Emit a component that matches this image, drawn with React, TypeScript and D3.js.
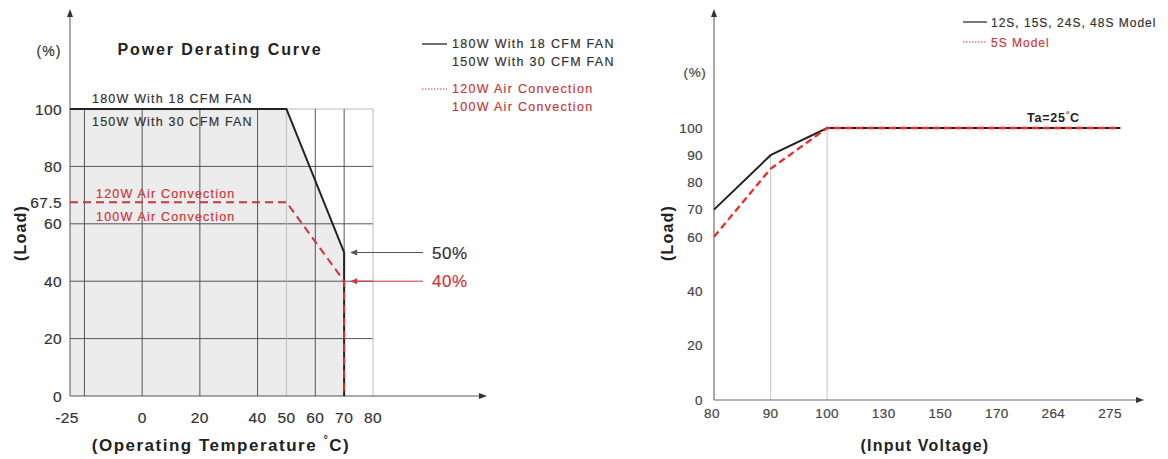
import React from "react";
import * as d3 from "d3";

// ---------- Left chart data: Power Derating Curve ----------
const tempTicks = [-25, 0, 20, 40, 50, 60, 70, 80];
const tempGrid = [-20, 0, 20, 40, 50, 60, 70, 80];
const loadTicksLeft = [0, 20, 40, 60, 67.5, 80, 100];
const loadGridLeft = [20, 40, 60, 80, 100];
const fanTemp = [-25, 50, 70, 70];
const fanLoad = [100, 100, 50, 0];
const convTemp = [-25, 50, 70, 70];
const convLoad = [67.5, 67.5, 40, 0];
const fanLabels = ["180W With 18 CFM FAN", "150W With 30 CFM FAN"];
const convLabels = ["120W Air Convection", "100W Air Convection"];
const markers = [
  { load: 50, label: "50%", kind: "fan" },
  { load: 40, label: "40%", kind: "conv" },
];

// ---------- Right chart data: Input voltage derating ----------
const voltTicks = [80, 90, 100, 130, 150, 170, 264, 275];
const voltGrid = [90, 100];
const loadTicksRight = [0, 20, 40, 60, 70, 80, 90, 100];
const stdVolt = [80, 90, 100, 277];
const stdLoad = [70, 90, 100, 100];
const s5Volt = [80, 90, 100, 277];
const s5Load = [60, 85, 100, 100];
const stdLegend = "12S, 15S, 24S, 48S Model";
const s5Legend = "5S Model";

const FONT = "'Liberation Sans', Arial, Helvetica, sans-serif";
const RED_L = "#c8383a";
const RED_R = "#ee2a24";
const TXT = "#333";
const THICK = 0.2;

export default function App() {
  // Left scales
  const xL = d3.scaleLinear().domain([-25, 80]).range([70, 373]);
  const yL = d3.scaleLinear().domain([0, 100]).range([396, 109]);
  const fanPts: [number, number][] = fanTemp.map((t, i) => [t, fanLoad[i]]);
  const convPts: [number, number][] = convTemp.map((t, i) => [t, convLoad[i]]);
  const lineL = d3
    .line<[number, number]>()
    .x((d) => xL(d[0]))
    .y((d) => yL(d[1]));
  const areaL = d3
    .area<[number, number]>()
    .x((d) => xL(d[0]))
    .y0(yL(0))
    .y1((d) => yL(d[1]));

  // Right scales: voltage -> tick index (piecewise) -> pixels
  const vIdx = d3.scaleLinear().domain(voltTicks).range(d3.range(voltTicks.length));
  const xIdx = d3.scaleLinear().domain([0, voltTicks.length - 1]).range([714, 1110]);
  const xR = (v: number) => xIdx(vIdx(v));
  const yR = d3.scaleLinear().domain([0, 100]).range([400, 128]);
  const stdPts: [number, number][] = stdVolt.map((v, i) => [v, stdLoad[i]]);
  const s5Pts: [number, number][] = s5Volt.map((v, i) => [v, s5Load[i]]);
  const lineR = d3
    .line<[number, number]>()
    .x((d) => xR(d[0]))
    .y((d) => yR(d[1]));
  const stdAt = d3.scaleLinear().domain(stdVolt).range(stdLoad);

  const gridDark = "#555";
  const gridLight = "#bbb";

  return (
    <svg
      width={1168}
      height={459}
      style={{ position: "absolute", left: 0, top: 0, background: "#fff" }}
      fontFamily={FONT}
    >
      <rect width={1168} height={459} fill="#fff" />
      {/* ================= LEFT CHART ================= */}
      <path d={areaL(fanPts) || ""} fill="#ececec" />
      {loadGridLeft.map((v) => (
        <line
          key={"hl" + v}
          x1={xL(-25)}
          x2={xL(80)}
          y1={yL(v)}
          y2={yL(v)}
          stroke={v === 100 ? gridLight : gridDark}
          strokeWidth={1}
        />
      ))}
      {tempGrid.map((t) => (
        <line
          key={"vl" + t}
          x1={xL(t)}
          x2={xL(t)}
          y1={yL(100)}
          y2={yL(0)}
          stroke={t === 50 || t === 80 ? gridLight : gridDark}
          strokeWidth={1}
        />
      ))}
      <line x1={xL(-25)} x2={xL(-25)} y1={yL(0)} y2={16} stroke="#555" strokeWidth={1} />
      <path d={`M${xL(-25)},9 L${xL(-25) - 3},17 L${xL(-25) + 3},17 Z`} fill="#333" />
      <line x1={xL(-25)} x2={480} y1={yL(0)} y2={yL(0)} stroke="#555" strokeWidth={1} />
      <path d={`M487,${yL(0)} L479,${yL(0) - 3} L479,${yL(0) + 3} Z`} fill="#333" />
      <path d={lineL(fanPts) || ""} fill="none" stroke="#222" strokeWidth={2} />
      <path
        d={lineL(convPts) || ""}
        fill="none"
        stroke={RED_L}
        strokeWidth={2}
        strokeDasharray="8,5"
      />
      <g stroke={TXT} strokeWidth={THICK}>
        {fanLabels.map((s, i) => (
          <text key={s} x={92} y={i === 0 ? 103 : 126} fontSize={12.5} letterSpacing={1.2} fill={TXT}>
            {s}
          </text>
        ))}
      </g>
      <g stroke={RED_L} strokeWidth={THICK}>
        {convLabels.map((s, i) => (
          <text key={s} x={96} y={i === 0 ? 198 : 221} fontSize={12.5} letterSpacing={1.2} fill={RED_L}>
            {s}
          </text>
        ))}
      </g>
      <g stroke={TXT} strokeWidth={THICK}>
        {loadTicksLeft.map((v) => (
          <text
            key={"yl" + v}
            x={62}
            y={yL(v)}
            dy="0.36em"
            textAnchor="end"
            fontSize={15.5}
            letterSpacing={0.4}
            fill={TXT}
          >
            {v}
          </text>
        ))}
        {tempTicks.map((t) => (
          <text
            key={"xl" + t}
            x={xL(t) - (t === -25 ? 3 : 0)}
            y={423}
            textAnchor="middle"
            fontSize={15.5}
            letterSpacing={0.4}
            fill={TXT}
          >
            {t}
          </text>
        ))}
        <text x={49} y={56} textAnchor="middle" fontSize={14} letterSpacing={1} fill={TXT}>
          (%)
        </text>
      </g>
      <text x={220} y={55} textAnchor="middle" fontSize={16} fontWeight="bold" letterSpacing={1.9} fill="#222">
        Power Derating Curve
      </text>
      <text
        transform="translate(26,233) rotate(-90)"
        textAnchor="middle"
        fontSize={16}
        fontWeight="bold"
        letterSpacing={1.2}
        fill="#222"
      >
        (Load)
      </text>
      <text x={221} y={451} textAnchor="middle" fontSize={17} fontWeight="bold" letterSpacing={1.5} fill="#222">
        (Operating Temperature{" "}
        <tspan fontSize={11} dy={-8}>
          °
        </tspan>
        <tspan dy={8}>C)</tspan>
      </text>
      {markers.map((m) => {
        const c = m.kind === "fan" ? "#555" : RED_L;
        const tc = m.kind === "fan" ? "#333" : RED_L;
        const yy = yL(m.load);
        const x0 = xL(70) + 6;
        return (
          <g key={m.label}>
            <line x1={x0 + 5} x2={423} y1={yy} y2={yy} stroke={c} strokeWidth={1} />
            <path d={`M${x0},${yy} L${x0 + 7},${yy - 3} L${x0 + 7},${yy + 3} Z`} fill={c} />
            <text
              x={432}
              y={yy}
              dy="0.36em"
              fontSize={17}
              letterSpacing={0.6}
              fill={tc}
              stroke={tc}
              strokeWidth={THICK}
            >
              {m.label}
            </text>
          </g>
        );
      })}
      <line x1={422} x2={447} y1={44} y2={44} stroke="#222" strokeWidth={1.3} />
      <g stroke={TXT} strokeWidth={THICK}>
        {fanLabels.map((s, i) => (
          <text key={"lg" + s} x={452} y={48 + i * 18} fontSize={12.5} letterSpacing={1.3} fill={TXT}>
            {s}
          </text>
        ))}
      </g>
      <line x1={422} x2={447} y1={89} y2={89} stroke={RED_L} strokeWidth={1} strokeDasharray="1.5,1.5" />
      <g stroke={RED_L} strokeWidth={THICK}>
        {convLabels.map((s, i) => (
          <text key={"lg" + s} x={452} y={93 + i * 18} fontSize={12.5} letterSpacing={1.3} fill={RED_L}>
            {s}
          </text>
        ))}
      </g>

      {/* ================= RIGHT CHART ================= */}
      {voltGrid.map((v) => (
        <line
          key={"vg" + v}
          x1={xR(v)}
          x2={xR(v)}
          y1={yR(stdAt(v))}
          y2={yR(0)}
          stroke="#ccc"
          strokeWidth={1.2}
        />
      ))}
      <line x1={xR(80)} x2={xR(80)} y1={yR(0)} y2={16} stroke="#555" strokeWidth={1} />
      <path d={`M${xR(80)},9 L${xR(80) - 3},17 L${xR(80) + 3},17 Z`} fill="#333" />
      <line x1={xR(80)} x2={1137} y1={yR(0)} y2={yR(0)} stroke="#666" strokeWidth={1} />
      <path d={`M1144,${yR(0)} L1136,${yR(0) - 3} L1136,${yR(0) + 3} Z`} fill="#333" />
      <path d={lineR(stdPts) || ""} fill="none" stroke="#222" strokeWidth={2} />
      <path
        d={lineR(s5Pts) || ""}
        fill="none"
        stroke={RED_R}
        strokeWidth={2.3}
        strokeDasharray="7,4"
      />
      <g stroke="#444" strokeWidth={THICK}>
        {loadTicksRight.map((v) => (
          <text
            key={"yr" + v}
            x={703}
            y={yR(v)}
            dy="0.36em"
            textAnchor="end"
            fontSize={13.5}
            letterSpacing={0.4}
            fill="#444"
          >
            {v}
          </text>
        ))}
        {voltTicks.map((v) => (
          <text
            key={"xr" + v}
            x={xR(v) - (v === 80 ? 2 : 0)}
            y={418}
            textAnchor="middle"
            fontSize={13.5}
            letterSpacing={0.4}
            fill="#444"
          >
            {v}
          </text>
        ))}
        <text x={695} y={77} textAnchor="middle" fontSize={13.5} letterSpacing={0.6} fill="#444">
          (%)
        </text>
      </g>
      <text
        transform="translate(673,233) rotate(-90)"
        textAnchor="middle"
        fontSize={16}
        fontWeight="bold"
        letterSpacing={1.2}
        fill="#222"
      >
        (Load)
      </text>
      <text x={925} y={451} textAnchor="middle" fontSize={16} fontWeight="bold" letterSpacing={1.2} fill="#222">
        (Input Voltage)
      </text>
      <text x={1027} y={122} fontSize={12.5} fontWeight="bold" letterSpacing={0.8} fill="#222">
        Ta=25
        <tspan fontSize={8} dy={-5}>
          °
        </tspan>
        <tspan dy={5}>C</tspan>
      </text>
      <line x1={963} x2={987} y1={22} y2={22} stroke="#333" strokeWidth={1.3} />
      <text x={991} y={27} fontSize={12} letterSpacing={1} fill="#333" stroke="#333" strokeWidth={THICK}>
        {stdLegend}
      </text>
      <line x1={963} x2={987} y1={42} y2={42} stroke={RED_L} strokeWidth={1} strokeDasharray="1.5,1.5" />
      <text x={991} y={47} fontSize={12} letterSpacing={1} fill={RED_L} stroke={RED_L} strokeWidth={THICK}>
        {s5Legend}
      </text>
    </svg>
  );
}
